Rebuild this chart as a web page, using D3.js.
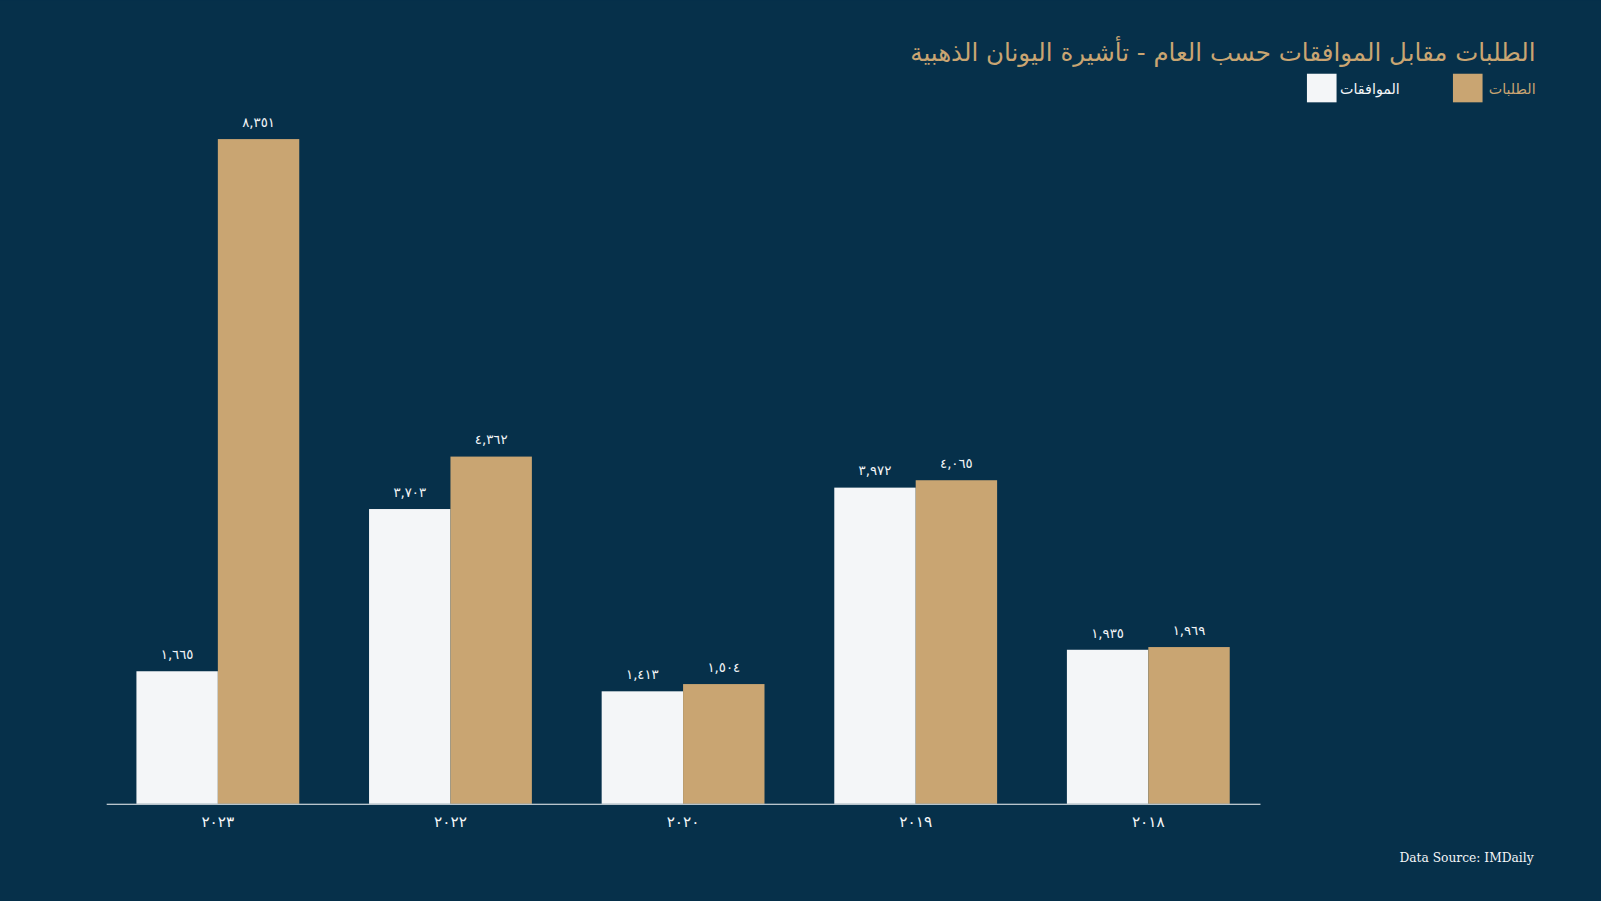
<!DOCTYPE html>
<html><head><meta charset="utf-8">
<script src="https://cdn.jsdelivr.net/npm/d3@7"></script>
<style>body{margin:0;background:#06304a;}svg{display:block;}</style>
</head><body><div id="chart"></div>
<script>
// data
const years = ['2023', '2022', '2020', '2019', '2018'];
const approvals = [1665, 3703, 1413, 3972, 1935];
const requests = [8351, 4362, 1504, 4065, 1969];
const seriesNames = ['الموافقات', 'الطلبات'];
const colors = ['#f4f6f8', '#c9a572'];

const W = 1568, H = 882;
const ar = s => String(s).replace(/\d/g, d => '٠١٢٣٤٥٦٧٨٩'[d]);
const fmt = v => ar(d3.format(',')(v));
const font = 'DejaVu Sans, Noto Sans';

const svg = d3.select('#chart').append('svg').attr('width', 1601).attr('height', 901)
  .attr('viewBox', `0 0 ${W} ${H}`);
svg.append('rect').attr('width', W).attr('height', H).attr('fill', '#06304a');

const x = d3.scaleBand().domain(years).range([104, 1234]).paddingInner(0.3).paddingOuter(0.13);
const xi = d3.scaleBand().domain([0, 1]).range([0, x.bandwidth()]);
const y = d3.scaleLinear().domain([0, 8351]).range([787, 136]);

const groups = svg.selectAll('g.yr').data(years).join('g')
  .attr('transform', d => `translate(${x(d)},0)`);
groups.each(function (yr, i) {
  const vals = [approvals[i], requests[i]];
  const g = d3.select(this);
  g.selectAll('rect').data(vals).join('rect')
    .attr('x', (d, k) => xi(k)).attr('width', xi.bandwidth())
    .attr('y', d => y(d)).attr('height', d => y(0) - y(d))
    .attr('fill', (d, k) => colors[k]);
  g.selectAll('text').data(vals).join('text')
    .attr('x', (d, k) => xi(k) + xi.bandwidth() / 2).attr('y', d => y(d) - 12)
    .attr('text-anchor', 'middle').attr('fill', '#f4f6f8')
    .attr('font-family', font).attr('font-size', 13)
    .text(d => fmt(d));
});

const ax = svg.append('g').attr('transform', 'translate(0,787)')
  .call(d3.axisBottom(x).tickSize(0).tickPadding(12).tickFormat(ar));
ax.select('.domain').attr('stroke', '#f4f6f8');
ax.selectAll('text').attr('fill', '#f4f6f8').attr('font-size', 15)
  .attr('font-family', font);

svg.append('text').attr('x', 1504).attr('y', 60).attr('text-anchor', 'end')
  .attr('fill', '#c9a572').attr('font-size', 24).attr('font-family', font)
  .text('الطلبات مقابل الموافقات حسب العام - تأشيرة اليونان الذهبية');

// legend
const leg = [{ n: seriesNames[1], c: colors[1], sx: 1423, tx: 1504 },
             { n: seriesNames[0], c: colors[0], sx: 1280, tx: 1371 }];
leg.forEach(l => {
  svg.append('rect').attr('x', l.sx).attr('y', 72).attr('width', 29).attr('height', 28).attr('fill', l.c);
  svg.append('text').attr('x', l.tx).attr('y', 92).attr('text-anchor', 'end')
    .attr('fill', l.c).attr('font-size', 14).attr('font-family', font).text(l.n);
});

svg.append('text').attr('x', 1502).attr('y', 844).attr('text-anchor', 'end')
  .attr('fill', '#f4f6f8').attr('font-size', 12).attr('font-family', 'DejaVu Serif')
  .text('Data Source: IMDaily');
</script></body></html>
